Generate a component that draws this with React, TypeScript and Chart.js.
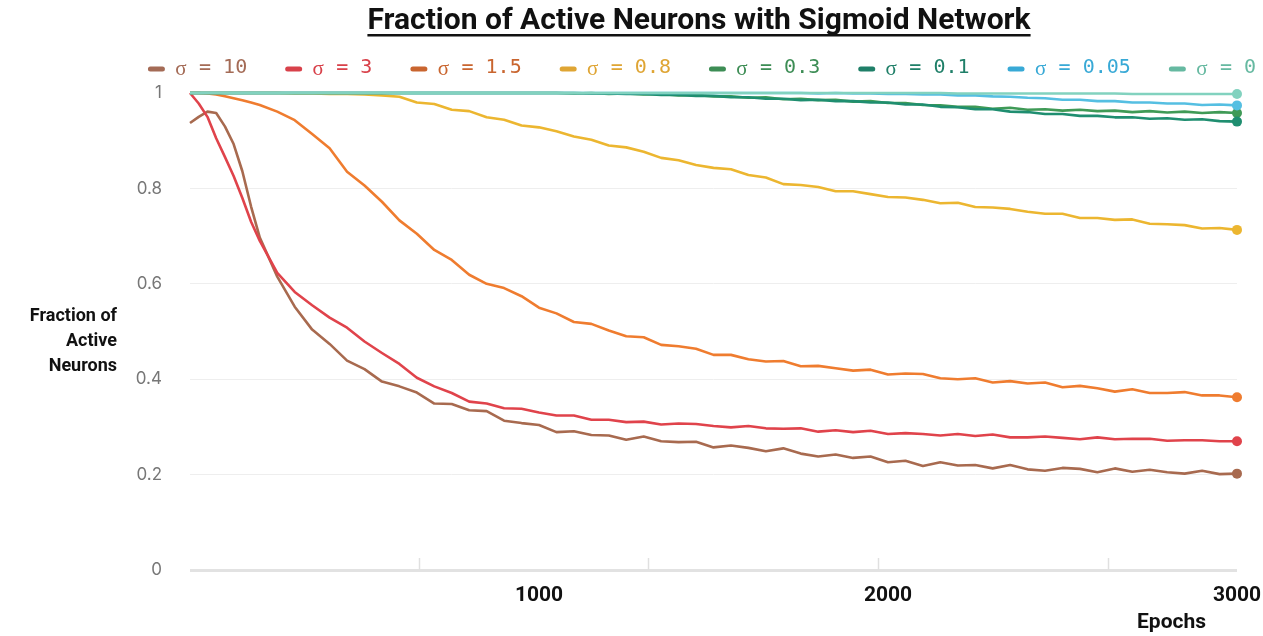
import { useEffect, useRef } from "react";
import { Chart, registerables } from "chart.js";

Chart.register(...registerables);

// Training epochs at which the active fraction was sampled
const epochs = [
  0, 25, 50, 75, 100, 125, 150, 175, 200, 250, 300, 350, 400, 450, 500, 550, 600, 650, 700, 750,
  800, 850, 900, 950, 1000, 1050, 1100, 1150, 1200, 1250, 1300, 1350, 1400, 1450, 1500, 1550, 1600,
  1650, 1700, 1750, 1800, 1850, 1900, 1950, 2000, 2050, 2100, 2150, 2200, 2250, 2300, 2350, 2400,
  2450, 2500, 2550, 2600, 2650, 2700, 2750, 2800, 2850, 2900, 2950, 3000,
];

// Fraction of active neurons, one list per initialisation scale σ
const sigma10 = [
  0.937, 0.95, 0.961, 0.958, 0.93, 0.893, 0.836, 0.762, 0.697, 0.615,
  0.552, 0.504, 0.474, 0.439, 0.421, 0.395, 0.385, 0.372, 0.349, 0.348,
  0.335, 0.333, 0.313, 0.308, 0.304, 0.289, 0.291, 0.283, 0.282, 0.273,
  0.28, 0.27, 0.268, 0.269, 0.257, 0.261, 0.256, 0.249, 0.255, 0.244,
  0.238, 0.242, 0.235, 0.238, 0.226, 0.229, 0.218, 0.226, 0.219, 0.22,
  0.213, 0.22, 0.211, 0.208, 0.214, 0.212, 0.205, 0.213, 0.206, 0.21,
  0.205, 0.202, 0.208, 0.201, 0.202,
];
const sigma3 = [
  1.0, 0.978, 0.95, 0.905, 0.866, 0.826, 0.78, 0.73, 0.69,
  0.623, 0.583, 0.555, 0.529, 0.508, 0.479, 0.455, 0.432, 0.403, 0.385, 0.371,
  0.353, 0.349, 0.339, 0.338, 0.33, 0.324, 0.324, 0.315, 0.315, 0.31,
  0.311, 0.305, 0.307, 0.306, 0.302, 0.299, 0.302, 0.297, 0.296, 0.297,
  0.29, 0.293, 0.289, 0.292, 0.285, 0.287, 0.285, 0.282, 0.285, 0.281,
  0.284, 0.278, 0.278, 0.28, 0.277, 0.274, 0.278, 0.274, 0.275, 0.275,
  0.271, 0.272, 0.272, 0.27, 0.27,
];
const sigma15 = [
  1.0, 1.0, 0.999, 0.997, 0.993, 0.989, 0.985, 0.98, 0.975,
  0.961, 0.943, 0.914, 0.884, 0.835, 0.806, 0.772, 0.733, 0.705, 0.671, 0.65,
  0.619, 0.6, 0.591, 0.574, 0.55, 0.538, 0.52, 0.516, 0.502, 0.49,
  0.488, 0.472, 0.469, 0.464, 0.451, 0.451, 0.442, 0.437, 0.438, 0.427,
  0.428, 0.423, 0.418, 0.42, 0.41, 0.412, 0.411, 0.402, 0.4, 0.402,
  0.393, 0.396, 0.391, 0.393, 0.383, 0.386, 0.381, 0.374, 0.379, 0.371,
  0.371, 0.373, 0.366, 0.366, 0.362,
];
const sigma08 = [
  1.0, 1.0, 1.0, 1.0, 1.0, 1.0, 1.0, 1.0, 1.0, 1.0,
  0.999, 0.999, 0.998, 0.998, 0.997, 0.995, 0.992, 0.98, 0.977, 0.965,
  0.962, 0.949, 0.944, 0.932, 0.928, 0.92, 0.909, 0.902, 0.89, 0.886,
  0.877, 0.864, 0.859, 0.849, 0.843, 0.84, 0.828, 0.823, 0.809, 0.807,
  0.803, 0.794, 0.794, 0.788, 0.782, 0.781, 0.776, 0.769, 0.77, 0.761,
  0.76, 0.757, 0.751, 0.747, 0.747, 0.738, 0.738, 0.734, 0.735, 0.726,
  0.725, 0.723, 0.716, 0.717, 0.713,
];
const sigma03 = [
  1.0, 1.0, 1.0, 1.0, 1.0, 1.0, 1.0, 1.0, 1.0, 1.0,
  1.0, 1.0, 1.0, 1.0, 1.0, 1.0, 1.0, 1.0, 1.0, 1.0,
  1.0, 1.0, 1.0, 1.0, 1.0, 1.0, 0.999, 1.0, 0.998, 0.999,
  0.997, 0.998, 0.995, 0.996, 0.993, 0.993, 0.99, 0.991, 0.987, 0.988,
  0.985, 0.986, 0.982, 0.983, 0.979, 0.979, 0.975, 0.974, 0.971, 0.971,
  0.967, 0.969, 0.965, 0.966, 0.963, 0.965, 0.962, 0.963, 0.96, 0.962,
  0.959, 0.961, 0.958, 0.96, 0.958,
];
const sigma01 = [
  1.0, 1.0, 1.0, 1.0, 1.0, 1.0, 1.0, 1.0, 1.0, 1.0,
  1.0, 1.0, 1.0, 1.0, 1.0, 1.0, 1.0, 1.0, 1.0, 1.0,
  1.0, 1.0, 1.0, 1.0, 1.0, 1.0, 1.0, 0.999, 0.999, 0.998,
  0.998, 0.996, 0.996, 0.994, 0.994, 0.991, 0.991, 0.988, 0.988, 0.985,
  0.986, 0.983, 0.983, 0.98, 0.98, 0.976, 0.976, 0.971, 0.97, 0.966,
  0.966, 0.961, 0.96, 0.956, 0.956, 0.952, 0.952, 0.949, 0.949, 0.946,
  0.947, 0.944, 0.945, 0.941, 0.94,
];
const sigma005 = [
  1.0, 1.0, 1.0, 1.0, 1.0, 1.0, 1.0, 1.0, 1.0, 1.0,
  1.0, 1.0, 1.0, 1.0, 1.0, 1.0, 1.0, 1.0, 1.0, 1.0,
  1.0, 1.0, 1.0, 1.0, 1.0, 1.0, 1.0, 1.0, 1.0, 1.0,
  1.0, 1.0, 1.0, 1.0, 1.0, 1.0, 1.0, 1.0, 1.0, 1.0,
  0.999, 1.0, 0.999, 0.999, 0.998, 0.998, 0.997, 0.997, 0.995, 0.995,
  0.993, 0.992, 0.99, 0.989, 0.986, 0.986, 0.983, 0.983, 0.98, 0.98,
  0.978, 0.978, 0.975, 0.976, 0.974,
];
const sigma0 = [
  1.0, 1.0, 1.0, 1.0, 1.0, 1.0, 1.0, 1.0, 1.0, 1.0,
  1.0, 1.0, 1.0, 1.0, 1.0, 1.0, 1.0, 1.0, 1.0, 1.0,
  1.0, 1.0, 1.0, 1.0, 1.0, 1.0, 1.0, 1.0, 1.0, 1.0,
  1.0, 1.0, 1.0, 1.0, 1.0, 1.0, 1.0, 1.0, 1.0, 1.0,
  1.0, 1.0, 1.0, 1.0, 1.0, 1.0, 1.0, 1.0, 0.999, 0.999,
  0.999, 0.999, 0.999, 0.999, 0.999, 0.999, 0.999, 0.999, 0.998, 0.998,
  0.998, 0.998, 0.998, 0.998, 0.998,
];

const series = [sigma10, sigma3, sigma15, sigma08, sigma03, sigma01, sigma005, sigma0];
const sigmaValues = ["10", "3", "1.5", "0.8", "0.3", "0.1", "0.05", "0"];
const seriesLabels = sigmaValues.map((s) => `σ = ${s}`);
const lineColors = ["#a86a4f", "#e0434b", "#ef7c2f", "#ecb630", "#3f9a56", "#1f8e70", "#55bfe2", "#82d2bf"];
const legendColors = ["#a46b56", "#d8414a", "#c9652f", "#dfa534", "#3d8d55", "#1f7f68", "#38a9d6", "#66b9a1"];

const xTickValues = [1000, 2000, 3000];
const yTickValues = [0, 0.2, 0.4, 0.6, 0.8, 1];
const axisMarkEpochs = [655, 1312, 1970, 2630];

const chartTitle = "Fraction of Active Neurons with Sigmoid Network";
const yTitleLines = ["Fraction of", "Active", "Neurons"];
const xTitle = "Epochs";

const W = 1263;
const H = 636;

const MONO = "20px 'DejaVu Sans Mono', monospace";
const GREEK = "21px 'Liberation Serif', serif";

// Title, legend row, axis titles and the small marks along the baseline
const decorations = {
  id: "decorations",
  beforeDatasetsDraw(chart: any) {
    const { ctx, chartArea, scales } = chart;
    ctx.save();
    ctx.strokeStyle = "#e0e0e0";
    ctx.lineWidth = 1.5;
    for (const e of axisMarkEpochs) {
      const x = Math.round(scales.x.getPixelForValue(e)) + 0.5;
      ctx.beginPath();
      ctx.moveTo(x, chartArea.bottom - 12);
      ctx.lineTo(x, chartArea.bottom);
      ctx.stroke();
    }
    ctx.restore();
  },
  afterDraw(chart: any) {
    const { ctx } = chart;
    ctx.save();

    // title with underline
    const cx = 699;
    ctx.font = "bold 30px Roboto";
    ctx.fillStyle = "#111";
    ctx.textAlign = "center";
    ctx.textBaseline = "alphabetic";
    ctx.fillText(chartTitle, cx, 29);
    const tw = ctx.measureText(chartTitle).width;
    ctx.fillRect(cx - tw / 2, 34, tw, 2.5);

    // legend: the sigma sits in its own monospace cell, drawn in a serif face
    ctx.font = MONO;
    const cell = ctx.measureText("0").width;
    const markerW = 17;
    const markerGap = 10;
    const itemGap = 38;
    const rests = sigmaValues.map((s) => ` = ${s}`);
    const widths = rests.map((r) => markerW + markerGap + cell + ctx.measureText(r).width);
    const total = widths.reduce((a, b) => a + b, 0) + itemGap * (widths.length - 1);
    let x = 702 - total / 2;
    const ly = 68;
    ctx.textBaseline = "middle";
    ctx.lineCap = "round";
    rests.forEach((r, i) => {
      ctx.strokeStyle = legendColors[i];
      ctx.lineWidth = 5;
      ctx.beginPath();
      ctx.moveTo(x + 2.5, ly + 1);
      ctx.lineTo(x + markerW - 2.5, ly + 1);
      ctx.stroke();
      ctx.fillStyle = legendColors[i];
      const tx = x + markerW + markerGap;
      ctx.font = GREEK;
      ctx.textAlign = "center";
      ctx.fillText("σ", tx + cell / 2, ly + 1);
      ctx.font = MONO;
      ctx.textAlign = "left";
      ctx.fillText(r, tx + cell, ly);
      x += widths[i] + itemGap;
    });

    // y-axis title, horizontal and right aligned
    ctx.font = "bold 18px Roboto";
    ctx.fillStyle = "#111";
    ctx.textAlign = "right";
    ctx.textBaseline = "alphabetic";
    yTitleLines.forEach((line, i) => ctx.fillText(line, 117, 321 + i * 25));

    // x-axis title
    ctx.font = "bold 21px Roboto";
    ctx.fillText(xTitle, 1206, 628);

    ctx.restore();
  },
};

export default function App() {
  const canvasRef = useRef<HTMLCanvasElement | null>(null);

  useEffect(() => {
    document.body.style.margin = "0";
    const canvas = canvasRef.current;
    if (!canvas) return;

    const chart = new Chart(canvas, {
      type: "line",
      data: {
        datasets: series.map((vals, i) => ({
          label: seriesLabels[i],
          data: vals.map((v, k) => ({ x: epochs[k], y: v })),
          borderColor: lineColors[i],
          backgroundColor: lineColors[i],
          borderWidth: 2.6,
          borderJoinStyle: "round" as const,
          tension: 0,
          pointRadius: (c: any) => (c.dataIndex === vals.length - 1 ? 5 : 0),
          pointBorderWidth: 0,
          pointHoverRadius: 0,
          order: series.length - i,
          clip: false as any,
        })),
      },
      options: {
        animation: false,
        responsive: false,
        events: [],
        layout: { padding: { top: 93, left: 0, right: 0, bottom: 0 } },
        plugins: {
          legend: { display: false },
          title: { display: false },
          tooltip: { enabled: false },
        },
        scales: {
          x: {
            type: "linear",
            min: 0,
            max: 3000,
            afterBuildTicks: (s: any) => {
              s.ticks = xTickValues.map((v) => ({ value: v }));
            },
            afterFit: (s: any) => {
              s.height = 66;
              s.paddingLeft = 0;
              s.paddingRight = 26;
            },
            grid: { display: false, drawTicks: false },
            border: { display: false },
            ticks: {
              padding: 13,
              color: "#111",
              autoSkip: false,
              maxRotation: 0,
              font: { family: "Roboto", size: 21, weight: "bold" },
              callback: (v: any) => String(v),
            },
          },
          y: {
            min: 0,
            max: 1,
            afterBuildTicks: (s: any) => {
              s.ticks = yTickValues.map((v) => ({ value: v }));
            },
            afterFit: (s: any) => {
              s.width = 190;
            },
            grid: {
              drawTicks: false,
              color: (c: any) => (c.tick && c.tick.value === 0 ? "#e2e2e2" : "#eeeeee"),
              lineWidth: (c: any) => (c.tick && c.tick.value === 0 ? 3 : 1),
            },
            border: { display: false },
            ticks: {
              padding: 28,
              color: "#777",
              font: { family: "Inter", size: 17 },
              callback: (v: any) => String(v),
            },
          },
        },
      },
      plugins: [decorations],
    });

    return () => chart.destroy();
  }, []);

  return (
    <div style={{ width: W, height: H, background: "#fff" }}>
      <canvas ref={canvasRef} width={W} height={H} style={{ display: "block" }} />
    </div>
  );
}
